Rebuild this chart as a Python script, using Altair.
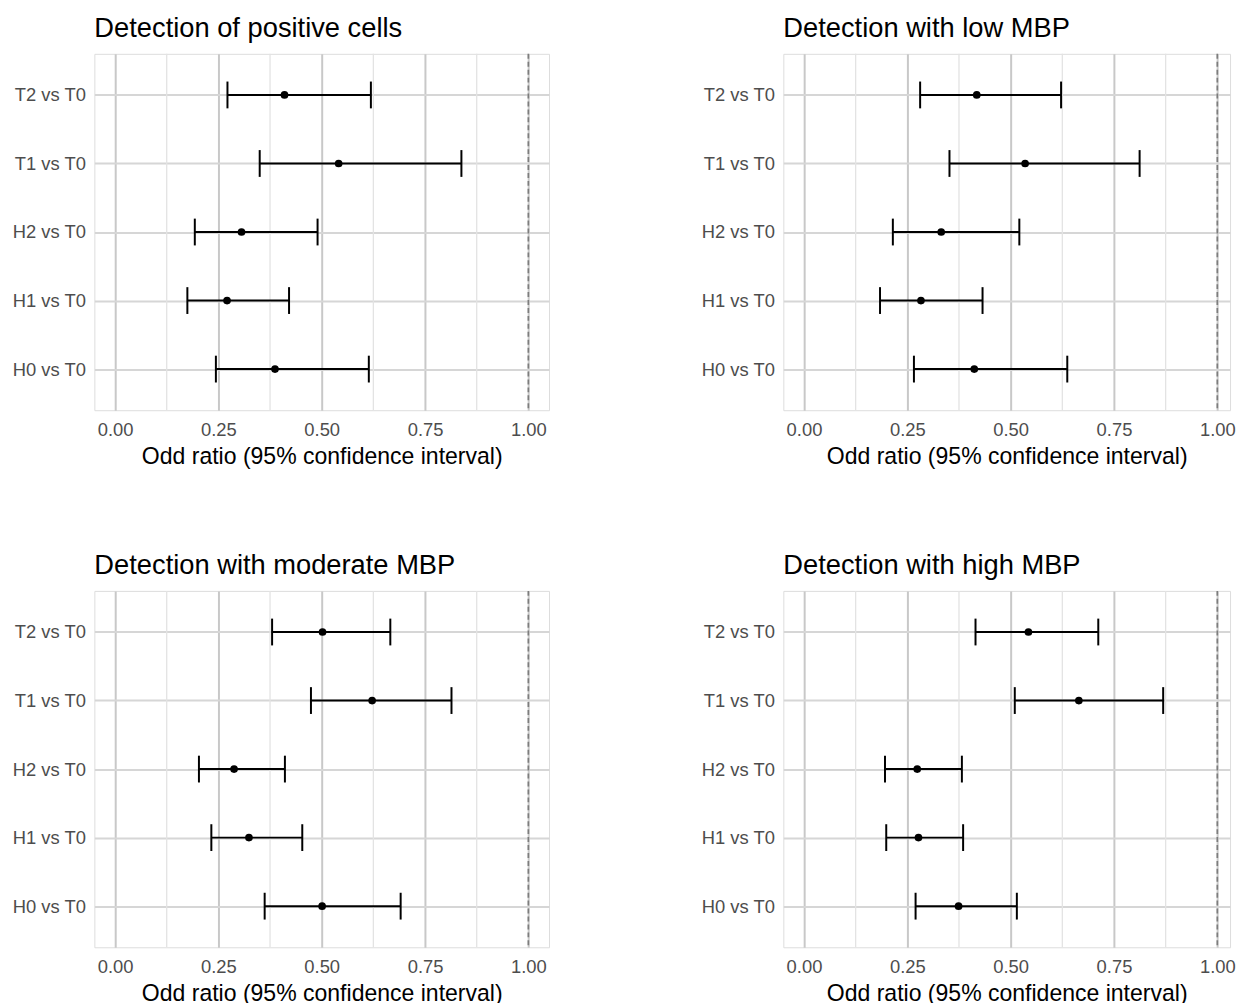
import altair as alt
import pandas as pd

FONT = "Liberation Sans"

comparisons = ["T2 vs T0", "T1 vs T0", "H2 vs T0", "H1 vs T0", "H0 vs T0"]

panel_titles = [
    "Detection of positive cells",
    "Detection with low MBP",
    "Detection with moderate MBP",
    "Detection with high MBP",
]

# odds ratio estimates and 95% CI, order as in `comparisons`
positive_est = [0.410, 0.541, 0.306, 0.271, 0.387]
positive_low = [0.272, 0.350, 0.193, 0.175, 0.244]
positive_high = [0.619, 0.838, 0.490, 0.421, 0.614]

low_est = [0.418, 0.535, 0.332, 0.283, 0.412]
low_low = [0.281, 0.352, 0.215, 0.184, 0.266]
low_high = [0.622, 0.812, 0.521, 0.432, 0.637]

moderate_est = [0.502, 0.622, 0.288, 0.324, 0.501]
moderate_low = [0.380, 0.474, 0.203, 0.233, 0.362]
moderate_high = [0.666, 0.814, 0.411, 0.453, 0.691]

high_est = [0.543, 0.665, 0.274, 0.277, 0.374]
high_low = [0.415, 0.510, 0.196, 0.199, 0.270]
high_high = [0.712, 0.869, 0.382, 0.385, 0.515]

major_ticks = [0.0, 0.25, 0.5, 0.75, 1.0]
minor_ticks = [0.125, 0.375, 0.625, 0.875]
ref_line = [1.0]

PW, PH = 458, 359
PW_RIGHT = 450  # right column is cut at the window edge
X_MIN = -0.05
X_MAX = 1.05
X_MAX_RIGHT = X_MIN + PW_RIGHT * (X_MAX - X_MIN) / PW

yscale = alt.Scale(type="point", padding=0.6, domain=comparisons)


def panel(title, est, low, high, width, xmax):
    xscale = alt.Scale(domain=[X_MIN, xmax], nice=False, zero=False)
    df = pd.DataFrame({"comp": comparisons, "est": est, "low": low, "high": high})
    base = alt.Chart(df)
    xaxis = alt.Axis(
        values=major_ticks, format=".2f", title="Odd ratio (95% confidence interval)",
        grid=True, gridColor="#c8c8c8", gridWidth=2, ticks=False, tickSize=0, domain=False,
        labelPadding=10, titlePadding=6.7, labelFontSize=18.5, labelColor="#4d4d4d",
        titleFontSize=23.2, titleColor="#000000", titleFontWeight="normal",
        labelFont=FONT, titleFont=FONT,
    )
    yaxis = alt.Axis(
        title=None, grid=True, gridColor="#d6d6d6", gridWidth=2, ticks=False, tickSize=0,
        domain=False, labelPadding=9, labelFontSize=18.5, labelColor="#4d4d4d",
        labelFont=FONT, minExtent=86, maxExtent=86,
    )
    minor = alt.Chart(pd.DataFrame({"v": minor_ticks})).mark_rule(
        color="#e3e3e3", strokeWidth=1.3
    ).encode(x=alt.X("v:Q", scale=xscale, axis=xaxis))
    ref = alt.Chart(pd.DataFrame({"v": ref_line})).mark_rule(
        color="#7d7d7d", strokeWidth=1.7, strokeDash=[5, 3]
    ).encode(x=alt.X("v:Q", scale=xscale))
    bars = base.mark_rule(color="black", strokeWidth=2).encode(
        x=alt.X("low:Q", scale=xscale),
        x2="high:Q",
        y=alt.Y("comp:N", scale=yscale, sort=comparisons, axis=yaxis),
    )
    cap_lo = base.mark_tick(color="black", thickness=2, size=27, opacity=1).encode(
        x=alt.X("low:Q", scale=xscale),
        y=alt.Y("comp:N", scale=yscale, sort=comparisons),
    )
    cap_hi = base.mark_tick(color="black", thickness=2, size=27, opacity=1).encode(
        x=alt.X("high:Q", scale=xscale),
        y=alt.Y("comp:N", scale=yscale, sort=comparisons),
    )
    pts = base.mark_circle(color="black", size=60, opacity=1).encode(
        x=alt.X("est:Q", scale=xscale),
        y=alt.Y("comp:N", scale=yscale, sort=comparisons),
    )
    return alt.layer(minor, ref, bars, cap_lo, cap_hi, pts).properties(
        width=width, height=PH,
        title=alt.TitleParams(
            text=title, anchor="start", frame="group", fontSize=27.5, font=FONT,
            fontWeight="normal", color="#000000", offset=-11, baseline="alphabetic",
        ),
    )


p1 = panel(panel_titles[0], positive_est, positive_low, positive_high, PW, X_MAX)
p2 = panel(panel_titles[1], low_est, low_low, low_high, PW_RIGHT, X_MAX_RIGHT)
p3 = panel(panel_titles[2], moderate_est, moderate_low, moderate_high, PW, X_MAX)
p4 = panel(panel_titles[3], high_est, high_low, high_high, PW_RIGHT, X_MAX_RIGHT)

chart = alt.vconcat(
    alt.hconcat(p1, p2, spacing=148),
    alt.hconcat(p3, p4, spacing=148),
    spacing=84,
).properties(
    padding={"left": 0, "top": 2.5, "right": 0, "bottom": 0},
).configure_view(stroke=None).configure(background="white")

chart.save("out.html", embed_options={"renderer": "svg", "actions": False})
